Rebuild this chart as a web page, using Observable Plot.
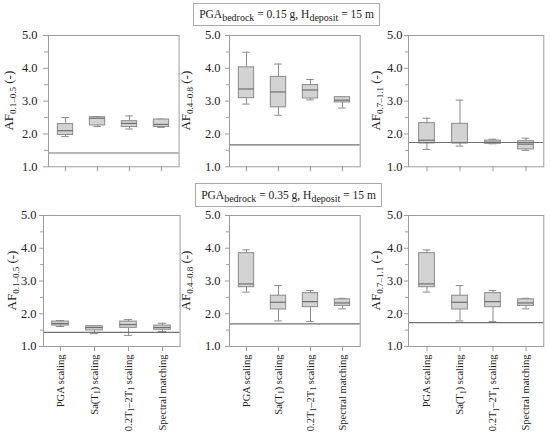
<!DOCTYPE html>
<html><head><meta charset="utf-8">
<script src="https://cdn.jsdelivr.net/npm/d3@7"></script>
<script src="https://cdn.jsdelivr.net/npm/@observablehq/plot@0.6"></script>
<style>
body{margin:0;background:#fff;}
#chart{position:relative;width:550px;height:443px;overflow:hidden;font-family:"Liberation Serif","Times New Roman",serif;color:#222;background:#fff;}
#chart svg{position:absolute;overflow:visible;font-family:"Liberation Serif","Times New Roman",serif;}
#chart svg text{font-family:"Liberation Serif","Times New Roman",serif;}
.hdr{position:absolute;border:1px solid #aaa;font-size:11.5px;text-align:center;line-height:20px;white-space:nowrap;background:#fff;color:#222;}
.hdr sub{font-size:10px;vertical-align:-3px;line-height:0;}
</style></head><body><div id="chart"></div>
<script>
// Categories (x axis)
const methods = ["PGA scaling", "Sa(T1) scaling", "0.2T1–2T1 scaling", "Spectral matching"];
// Label pieces: [text, isSubscript]
const methodLabelParts = [
  [["PGA scaling", false]],
  [["Sa(T", false], ["1", true], [") scaling", false]],
  [["0.2T", false], ["1", true], ["–2T", false], ["1", true], [" scaling", false]],
  [["Spectral matching", false]]
];
// Box summaries per method: [min, q1, median, q3, max]
const top_01_05 = [[1.92,1.97,2.10,2.30,2.50],[2.23,2.26,2.48,2.51,2.53],[2.15,2.21,2.32,2.39,2.55],[2.20,2.21,2.29,2.44,2.45]];
const top_04_08 = [[2.91,3.09,3.37,4.03,4.49],[2.57,2.81,3.28,3.74,4.13],[3.04,3.08,3.34,3.49,3.66],[2.79,2.96,3.03,3.12,3.12]];
const top_07_11 = [[1.53,1.71,1.81,2.33,2.48],[1.63,1.71,1.74,2.31,3.03],[1.70,1.70,1.75,1.80,1.84],[1.50,1.53,1.69,1.78,1.87]];
const bot_01_05 = [[1.61,1.64,1.70,1.76,1.79],[1.39,1.49,1.58,1.62,1.62],[1.34,1.57,1.67,1.76,1.82],[1.46,1.51,1.58,1.64,1.71]];
const bot_04_08 = [[2.66,2.81,2.91,3.85,3.95],[1.78,2.13,2.35,2.55,2.86],[1.76,2.20,2.37,2.63,2.71],[2.15,2.24,2.33,2.44,2.47]];
const bot_07_11 = [[2.66,2.81,2.91,3.85,3.95],[1.78,2.13,2.35,2.55,2.86],[1.76,2.20,2.37,2.63,2.71],[2.15,2.24,2.33,2.44,2.47]];
// Reference (horizontal) lines per panel
const refLines = [1.42, 1.67, 1.74, 1.43, 1.69, 1.73];
// Y axis label subscripts
const yLabelSubs = ["0.1–0.5", "0.4–0.8", "0.7–1.1", "0.1–0.5", "0.4–0.8", "0.7–1.1"];
const yMajorTicks = [1, 2, 3, 4, 5];
const yMinorTicks = [1.5, 2.5, 3.5, 4.5];
const yDomain = [1, 5];
// Header texts
const headerPGA = ["0.15", "0.35"];
const headerH = ["15", "15"];

const panels = [top_01_05, top_04_08, top_07_11, bot_01_05, bot_04_08, bot_07_11];

// Layout (frame positions in the page)
const layout = [
  {x:47.7, y:34.7, w:130.6, h:131.3, tick:5, pad:6, lab:-35, bottom:false},
  {x:229.3, y:34.7, w:130.7, h:131.3, tick:4, pad:5, lab:-39, bottom:false},
  {x:407.7, y:34.7, w:135.3, h:131.3, tick:4, pad:2, lab:-28, bottom:false},
  {x:42.7, y:215, w:136.6, h:131, tick:4, pad:3, lab:-27, bottom:true},
  {x:229.3, y:215, w:130.7, h:131, tick:4, pad:5, lab:-39, bottom:true},
  {x:407.7, y:215, w:135.3, h:131, tick:4, pad:2, lab:-28, bottom:true}
];
const hdrLayout = [{left:193, top:3, width:185, height:21}, {left:195, top:183, width:185, height:22}];

const chart = document.getElementById("chart");
const ML = 50, MR = 2, MT = 4;
const boxStroke = "#8a8a8a";
const serif = "Liberation Serif, Times New Roman, serif";

panels.forEach((arr, i) => {
  const L = layout[i];
  const rows = methods.map((m, k) => ({method: m, min: arr[k][0], q1: arr[k][1], med: arr[k][2], q3: arr[k][3], max: arr[k][4]}));
  const MB = L.bottom ? 97 : 12;
  const band = L.w / methods.length;
  const boxInset = band * 0.255;
  const capInset = band * 0.375;
  const svg = Plot.plot({
    width: ML + L.w + MR,
    height: MT + L.h + MB,
    marginLeft: ML, marginRight: MR, marginTop: MT, marginBottom: MB,
    style: {fontFamily: serif, fontSize: "12px", color: "#222", background: "transparent", overflow: "visible"},
    x: {domain: methods, padding: 0, label: null},
    y: {domain: yDomain, label: null},
    marks: [
      Plot.ruleX(rows, {x: "method", y1: "min", y2: "q1", stroke: boxStroke}),
      Plot.ruleX(rows, {x: "method", y1: "q3", y2: "max", stroke: boxStroke}),
      Plot.tickY(rows, {x: "method", y: "max", stroke: boxStroke, insetLeft: capInset, insetRight: capInset}),
      Plot.tickY(rows, {x: "method", y: "min", stroke: boxStroke, insetLeft: capInset, insetRight: capInset}),
      Plot.barY(rows, {x: "method", y1: "q1", y2: "q3", fill: "#d3d3d3", stroke: boxStroke, insetLeft: boxInset, insetRight: boxInset}),
      Plot.tickY(rows, {x: "method", y: "med", stroke: "#6f6f6f", strokeWidth: 1.2, insetLeft: boxInset, insetRight: boxInset}),
      Plot.ruleY([refLines[i]], {stroke: "#707070", strokeWidth: 1.2}),
      Plot.frame({stroke: "#9c9c9c"}),
      Plot.axisY({ticks: yMajorTicks, tickFormat: d3.format(".1f"), tickSize: L.tick, tickPadding: L.pad, stroke: "#9c9c9c", label: null, fontSize: 12.5, fontFamily: serif}),
      Plot.axisY({ticks: yMinorTicks, tickFormat: () => "", tickSize: L.tick - 1, stroke: "#9c9c9c", label: null}),
      Plot.axisX({tickSize: 5, stroke: "#9c9c9c", label: null,
        tickFormat: L.bottom ? (d => d) : (() => ""),
        tickRotate: L.bottom ? -90 : 0, tickPadding: 3, fontSize: 10.5, fontFamily: serif})
    ]
  });
  svg.style.left = (L.x - ML) + "px";
  svg.style.top = (L.y - MT) + "px";
  const s = d3.select(svg);
  if (L.bottom) {
    s.selectAll('g[aria-label="x-axis tick label"] text').each(function(d, k) {
      const t = d3.select(this);
      const idx = methods.indexOf(this.textContent);
      const parts = methodLabelParts[idx >= 0 ? idx : k];
      t.text(null);
      let shifted = false;
      parts.forEach(([txt, sub]) => {
        const ts = t.append("tspan").text(txt);
        if (sub) { ts.attr("font-size", 8).attr("dy", 2.5); shifted = true; }
        else if (shifted) { ts.attr("dy", -2.5); shifted = false; }
      });
    });
  }
  const yl = s.append("text")
    .attr("transform", `translate(${ML + L.lab},${MT + L.h / 2}) rotate(-90)`)
    .attr("text-anchor", "middle")
    .attr("font-size", 13)
    .attr("font-family", serif)
    .attr("fill", "#222");
  yl.append("tspan").text("AF");
  yl.append("tspan").attr("font-size", 9).attr("dy", 3).text(yLabelSubs[i]);
  yl.append("tspan").attr("dy", -3).text(" (-)");
  chart.appendChild(svg);
});

hdrLayout.forEach((h, i) => {
  const d = document.createElement("div");
  d.className = "hdr";
  d.style.left = h.left + "px";
  d.style.top = h.top + "px";
  d.style.width = h.width + "px";
  d.style.height = h.height + "px";
  d.style.lineHeight = h.height + "px";
  d.innerHTML = `PGA<sub>bedrock</sub> = ${headerPGA[i]} g, H<sub>deposit</sub> = ${headerH[i]} m`;
  chart.appendChild(d);
});
</script></body></html>
